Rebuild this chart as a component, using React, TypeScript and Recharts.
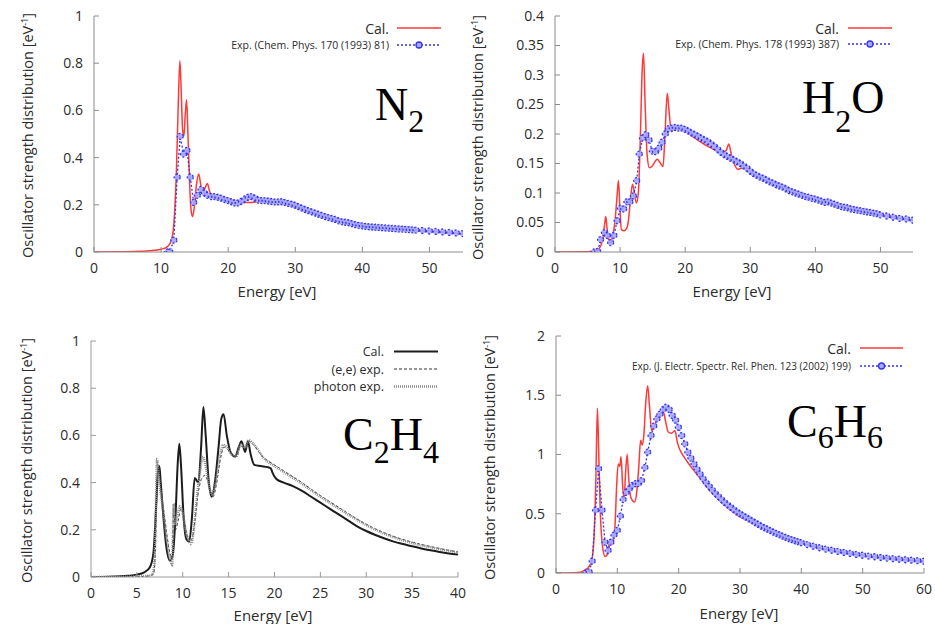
import React from 'react';
import { LineChart, Line, XAxis, YAxis, Legend } from 'recharts';

type Pair = [number, number];

// N2: calculation and experiment (Chem. Phys. 170 (1993) 81)
const n2Cal: Pair[] = [
  [0, 0], [4, 0.001], [7, 0.003], [9, 0.007], [10, 0.012], [10.8, 0.02], [11.3, 0.035], [11.7, 0.07],
  [12.0, 0.16], [12.3, 0.36], [12.55, 0.62], [12.8, 0.81], [13.0, 0.68], [13.2, 0.52], [13.4, 0.49],
  [13.6, 0.58], [13.8, 0.645], [14.0, 0.5], [14.25, 0.29], [14.5, 0.17], [14.7, 0.15], [14.95, 0.19],
  [15.25, 0.28], [15.6, 0.33], [15.95, 0.28], [16.3, 0.255], [16.6, 0.275], [16.9, 0.29], [17.25, 0.255],
  [17.7, 0.24], [18.5, 0.232], [19.5, 0.224], [20.5, 0.216], [21.5, 0.212], [22.5, 0.21], [23.5, 0.21],
  [24.5, 0.213], [25.5, 0.214], [26.5, 0.212], [27.5, 0.21], [28.5, 0.205], [29.5, 0.196], [30.5, 0.186],
  [31.5, 0.176], [32.5, 0.166], [33.5, 0.157], [34.5, 0.148], [35.5, 0.14], [36.5, 0.132], [37.5, 0.125],
  [38.5, 0.119], [39.5, 0.114], [41, 0.108], [43, 0.102], [45, 0.098], [47, 0.094], [49, 0.09],
  [51, 0.086], [53, 0.082], [55, 0.077],
];
const n2Exp: Pair[] = [
  [11.0, 0], [11.3, 0], [11.9, 0.05], [12.4, 0.317], [12.85, 0.49], [13.35, 0.415], [13.85, 0.43],
  [14.35, 0.317], [14.85, 0.21], [15.4, 0.24], [15.95, 0.265], [16.45, 0.25], [16.95, 0.24], [17.5, 0.235],
  [18, 0.235], [18.5, 0.232], [19, 0.228], [19.5, 0.222], [20, 0.218], [20.5, 0.213], [21, 0.208],
  [21.5, 0.208], [22, 0.215], [22.5, 0.225], [23, 0.232], [23.5, 0.235], [24, 0.228], [24.5, 0.22],
  [25, 0.218], [25.5, 0.218], [26, 0.216], [26.5, 0.214], [27, 0.212], [27.5, 0.212], [28, 0.213],
  [28.5, 0.21], [29, 0.206], [29.5, 0.203], [30, 0.198], [30.5, 0.192], [31, 0.186], [31.5, 0.18],
  [32, 0.175], [32.5, 0.17], [33, 0.165], [33.5, 0.16], [34, 0.155], [34.5, 0.15], [35, 0.146],
  [35.5, 0.142], [36, 0.138], [36.5, 0.132], [37, 0.128], [37.5, 0.126], [38, 0.124], [38.5, 0.12],
  [39, 0.116], [39.5, 0.113], [40, 0.111], [40.5, 0.109], [41, 0.107], [41.5, 0.106], [42, 0.105],
  [42.5, 0.104], [43, 0.103], [43.5, 0.102], [44, 0.101], [44.5, 0.1], [45, 0.099], [45.5, 0.098],
  [46, 0.097], [46.5, 0.096], [47, 0.095], [47.5, 0.094], [48, 0.093], [49, 0.091], [50, 0.089],
  [51, 0.087], [52, 0.085], [53, 0.083], [54, 0.081], [55, 0.078],
];

// H2O: calculation and experiment (Chem. Phys. 178 (1993) 387)
const h2oCal: Pair[] = [
  [0, 0], [5, 0.0005], [6.2, 0.002], [6.8, 0.006], [7.3, 0.02], [7.6, 0.045], [7.8, 0.06], [8.0, 0.04],
  [8.3, 0.02], [8.5, 0.015], [8.8, 0.025], [9.2, 0.05], [9.5, 0.09], [9.75, 0.121], [9.95, 0.08],
  [10.2, 0.038], [10.6, 0.036], [11.0, 0.04], [11.3, 0.055], [11.6, 0.09], [11.9, 0.115], [12.2, 0.1],
  [12.5, 0.083], [12.8, 0.1], [13.1, 0.19], [13.4, 0.31], [13.6, 0.337], [13.85, 0.25], [14.15, 0.165],
  [14.5, 0.143], [14.9, 0.145], [15.3, 0.152], [15.7, 0.157], [16.1, 0.152], [16.6, 0.145], [16.9, 0.2],
  [17.25, 0.269], [17.55, 0.235], [17.9, 0.204], [18.4, 0.21], [19.2, 0.208], [20, 0.205], [21, 0.197],
  [22, 0.189], [23, 0.182], [24, 0.176], [25, 0.171], [25.8, 0.17], [26.3, 0.172], [26.7, 0.183],
  [27.1, 0.165], [27.6, 0.148], [28.1, 0.14], [28.6, 0.142], [29.2, 0.143], [30, 0.136], [31, 0.13],
  [32, 0.125], [33, 0.12], [34, 0.116], [35, 0.111], [36, 0.106], [37, 0.102], [38, 0.098], [39, 0.094],
  [40, 0.091], [42, 0.085], [44, 0.079], [46, 0.074], [48, 0.069], [50, 0.064], [52, 0.06], [55, 0.054],
];
const h2oExp: Pair[] = [
  [6.05, 0], [6.55, 0.001], [7.0, 0.021], [7.6, 0.033], [8.05, 0.028], [8.55, 0.016], [9.05, 0.028],
  [9.55, 0.053], [10.05, 0.074], [10.55, 0.073], [11.05, 0.085], [11.5, 0.085], [12.05, 0.095],
  [12.55, 0.121], [12.95, 0.166], [13.45, 0.193], [13.95, 0.199], [14.45, 0.19], [14.95, 0.171],
  [15.45, 0.17], [15.95, 0.176], [16.45, 0.186], [16.95, 0.2], [17.45, 0.209], [18, 0.21], [18.5, 0.211],
  [19, 0.21], [19.5, 0.21], [20, 0.208], [20.5, 0.205], [21, 0.202], [21.5, 0.199], [22, 0.196],
  [22.5, 0.193], [23, 0.19], [23.5, 0.187], [24, 0.183], [24.5, 0.179], [25, 0.174], [25.5, 0.169],
  [26, 0.165], [26.5, 0.162], [27, 0.159], [27.5, 0.156], [28, 0.153], [28.5, 0.15], [29, 0.146],
  [29.5, 0.142], [30, 0.137], [30.5, 0.133], [31, 0.13], [31.5, 0.127], [32, 0.125], [32.5, 0.122],
  [33, 0.119], [33.5, 0.117], [34, 0.114], [34.5, 0.112], [35, 0.11], [35.5, 0.107], [36, 0.104],
  [36.5, 0.102], [37, 0.1], [37.5, 0.098], [38, 0.096], [38.5, 0.094], [39, 0.093], [39.5, 0.091],
  [40, 0.09], [40.5, 0.088], [41, 0.086], [41.5, 0.084], [42, 0.085], [42.5, 0.083], [43, 0.081],
  [43.5, 0.079], [44, 0.077], [44.5, 0.076], [45, 0.075], [45.5, 0.073], [46, 0.072], [46.5, 0.071],
  [47, 0.07], [47.5, 0.069], [48, 0.068], [48.5, 0.067], [49, 0.066], [49.5, 0.065], [50, 0.063],
  [51, 0.061], [52, 0.059], [53, 0.057], [54, 0.056], [55, 0.054],
];

// C2H4: calculation, (e,e) and photon experiments
const c2h4Cal: Pair[] = [
  [0, 0], [2, 0.001], [4, 0.005], [5, 0.01], [5.8, 0.02], [6.4, 0.04], [6.8, 0.1], [7.1, 0.3], [7.3, 0.45],
  [7.45, 0.47], [7.6, 0.4], [7.9, 0.25], [8.2, 0.13], [8.6, 0.07], [8.9, 0.09], [9.2, 0.25], [9.45, 0.48],
  [9.63, 0.565], [9.8, 0.48], [10.1, 0.25], [10.4, 0.16], [10.7, 0.15], [11.0, 0.25], [11.3, 0.42],
  [11.7, 0.4], [12.0, 0.55], [12.25, 0.72], [12.5, 0.6], [12.8, 0.42], [13.15, 0.34], [13.5, 0.4],
  [13.9, 0.55], [14.2, 0.67], [14.45, 0.69], [14.8, 0.6], [15.2, 0.53], [15.7, 0.51], [16.1, 0.55],
  [16.4, 0.575], [16.8, 0.53], [17.1, 0.575], [17.4, 0.52], [17.8, 0.475], [18.5, 0.47], [19.3, 0.465],
  [19.6, 0.46], [19.8, 0.44], [20.2, 0.415], [21, 0.4], [22, 0.385], [23, 0.365], [24, 0.34], [25, 0.315],
  [26, 0.29], [27, 0.265], [28, 0.24], [29, 0.215], [30, 0.195], [31, 0.178], [32, 0.163], [33, 0.15],
  [34, 0.14], [35, 0.13], [36, 0.121], [37, 0.113], [38, 0.106], [39, 0.1], [40, 0.095],
];
const c2h4EE: Pair[] = [
  [0, 0], [4, 0.001], [6, 0.003], [6.8, 0.01], [7.0, 0.1], [7.2, 0.38], [7.35, 0.47], [7.5, 0.43],
  [7.7, 0.35], [8.0, 0.26], [8.3, 0.17], [8.6, 0.1], [8.85, 0.08], [9.0, 0.28], [9.2, 0.2], [9.5, 0.24],
  [9.8, 0.29], [10.1, 0.26], [10.4, 0.19], [10.7, 0.15], [11.0, 0.16], [11.3, 0.23], [11.7, 0.36],
  [12.1, 0.42], [12.4, 0.43], [12.7, 0.41], [13.0, 0.37], [13.3, 0.34], [13.7, 0.4], [14.1, 0.5],
  [14.5, 0.55], [14.9, 0.54], [15.4, 0.52], [15.9, 0.51], [16.3, 0.555], [16.8, 0.55], [17.2, 0.575],
  [17.7, 0.56], [18.2, 0.535], [18.7, 0.51], [19.2, 0.495], [20, 0.475], [21, 0.45], [22, 0.425],
  [23, 0.4], [24, 0.372], [25, 0.345], [26, 0.32], [27, 0.295], [28, 0.27], [29, 0.246], [30, 0.224],
  [31, 0.204], [32, 0.187], [33, 0.172], [34, 0.159], [35, 0.148], [36, 0.138], [37, 0.129], [38, 0.121],
  [39, 0.113], [40, 0.106],
];
const c2h4Photon: Pair[] = [
  [0, 0], [3, 0.001], [5, 0.002], [6, 0.004], [6.6, 0.01], [6.9, 0.05], [7.05, 0.25], [7.2, 0.5],
  [7.35, 0.44], [7.5, 0.38], [7.7, 0.33], [8.0, 0.24], [8.3, 0.15], [8.6, 0.08], [8.85, 0.05], [9.0, 0.31],
  [9.15, 0.22], [9.4, 0.26], [9.7, 0.3], [10.0, 0.27], [10.3, 0.2], [10.6, 0.16], [10.9, 0.14], [11.2, 0.2],
  [11.5, 0.32], [11.9, 0.45], [12.2, 0.51], [12.5, 0.47], [12.8, 0.4], [13.2, 0.35], [13.6, 0.4],
  [14.0, 0.5], [14.4, 0.56], [14.8, 0.55], [15.3, 0.52], [15.8, 0.51], [16.3, 0.56], [16.8, 0.55],
  [17.2, 0.58], [17.7, 0.565], [18.2, 0.54], [18.7, 0.51], [19.2, 0.49], [20, 0.47], [21, 0.445],
  [22, 0.42], [23, 0.395], [24, 0.367], [25, 0.34], [26, 0.315], [27, 0.29], [28, 0.265], [29, 0.242],
  [30, 0.22], [31, 0.2], [32, 0.183], [33, 0.168], [34, 0.155], [35, 0.144], [36, 0.134], [37, 0.126],
  [38, 0.118], [39, 0.111], [40, 0.104],
];

// C6H6: calculation and experiment (J. Electr. Spectr. Rel. Phen. 123 (2002) 199)
const c6h6Cal: Pair[] = [
  [0, 0], [3, 0.002], [4, 0.006], [4.7, 0.025], [5.3, 0.05], [5.8, 0.1], [6.2, 0.3], [6.5, 0.8],
  [6.75, 1.39], [6.95, 1.05], [7.2, 0.55], [7.6, 0.22], [8.0, 0.14], [8.4, 0.16], [8.8, 0.28], [9.2, 0.24],
  [9.6, 0.38], [9.9, 0.75], [10.15, 0.92], [10.4, 0.9], [10.6, 0.98], [10.85, 0.75], [11.1, 0.62],
  [11.35, 0.85], [11.6, 1.0], [11.85, 0.8], [12.2, 0.64], [12.8, 0.6], [13.2, 0.7], [13.5, 0.9],
  [13.8, 1.12], [14.05, 1.08], [14.3, 1.15], [14.65, 1.45], [14.95, 1.58], [15.25, 1.4], [15.6, 1.2],
  [16.0, 1.24], [16.5, 1.3], [17.0, 1.34], [17.5, 1.36], [17.9, 1.27], [18.3, 1.19], [18.8, 1.18],
  [19.4, 1.2], [19.8, 1.1], [20.2, 1.04], [21, 0.97], [22.4, 0.87], [23, 0.83], [24, 0.77], [25, 0.7],
  [26, 0.65], [27, 0.6], [28, 0.55], [29, 0.51], [30, 0.475], [31, 0.45], [32, 0.425], [33, 0.4],
  [34, 0.375], [35, 0.352], [36, 0.33], [37, 0.308], [38, 0.288], [39, 0.27], [40, 0.254], [42, 0.224],
  [44, 0.2], [46, 0.18], [48, 0.164], [50, 0.15], [52, 0.137], [54, 0.126], [56, 0.116], [58, 0.108],
  [60, 0.1],
];
const c6h6Exp: Pair[] = [
  [4.9, 0], [5.4, 0.01], [5.9, 0.1], [6.45, 0.53], [6.95, 0.88], [7.5, 0.53], [8.0, 0.26], [8.5, 0.19],
  [8.95, 0.26], [9.45, 0.32], [10.0, 0.36], [10.5, 0.48], [10.95, 0.62], [11.45, 0.68], [11.95, 0.71],
  [12.5, 0.74], [13.0, 0.755], [13.45, 0.755], [13.95, 0.78], [14.5, 0.89], [14.95, 1.02], [15.5, 1.16],
  [15.95, 1.24], [16.45, 1.3], [16.95, 1.34], [17.5, 1.38], [17.95, 1.4], [18.45, 1.38], [18.95, 1.33],
  [19.5, 1.29], [19.95, 1.23], [20.5, 1.16], [21, 1.09], [21.5, 1.02], [22, 0.97], [22.5, 0.92],
  [23, 0.875], [23.5, 0.835], [24, 0.795], [24.5, 0.76], [25, 0.73], [25.5, 0.7], [26, 0.67],
  [26.5, 0.645], [27, 0.62], [27.5, 0.595], [28, 0.575], [28.5, 0.555], [29, 0.535], [29.5, 0.515],
  [30, 0.5], [30.5, 0.485], [31, 0.47], [31.5, 0.455], [32, 0.44], [32.5, 0.425], [33, 0.41],
  [33.5, 0.395], [34, 0.382], [34.5, 0.37], [35, 0.357], [35.5, 0.345], [36, 0.333], [36.5, 0.322],
  [37, 0.311], [37.5, 0.3], [38, 0.29], [38.5, 0.281], [39, 0.272], [39.5, 0.264], [40, 0.256],
  [41, 0.24], [42, 0.226], [43, 0.213], [44, 0.202], [45, 0.192], [46, 0.182], [47, 0.173], [48, 0.165],
  [49, 0.157], [50, 0.15], [51, 0.143], [52, 0.137], [53, 0.131], [54, 0.126], [55, 0.121], [56, 0.116],
  [57, 0.112], [58, 0.108], [59, 0.104], [60, 0.1],
];

const ticks55 = [0, 10, 20, 30, 40, 50];
const ticks40 = [0, 5, 10, 15, 20, 25, 30, 35, 40];
const ticks60 = [0, 10, 20, 30, 40, 50, 60];
const yTicks1 = [0, 0.2, 0.4, 0.6, 0.8, 1];
const yTicksH2O = [0, 0.05, 0.1, 0.15, 0.2, 0.25, 0.3, 0.35, 0.4];
const yTicks2 = [0, 0.5, 1, 1.5, 2];

const FONT = "'Open Sans', 'DejaVu Sans', sans-serif";
const SERIF = "'Liberation Serif', 'DejaVu Serif', serif";
const RED = '#ff3838';
const BLUE = '#3333ee';
const DOT_FILL = '#a8a8ff';
const TEXT = '#2b2b2b';

interface Series {
  name: string;
  data: Pair[];
  stroke: string;
  width: number;
  dash?: string;
  dots?: boolean;
  size: number;
}

interface PanelCfg {
  x: number;
  y: number;
  w: number;
  h: number;
  plot: { l: number; r: number; t: number; b: number };
  xDomain: [number, number];
  xTicks: number[];
  yDomain: [number, number];
  yTicks: number[];
  axisColor: string;
  series: Series[];
  legend: { textRight: number; x1: number; x2: number; rows: number[] };
}

const toPoints = (rows: Pair[]) => rows.map(([e, f]) => ({ e, f }));

const calSeries = (data: Pair[]): Series => ({ name: 'Cal.', data, stroke: RED, width: 1.5, size: 14 });
const expSeries = (name: string, data: Pair[], size: number): Series => ({
  name, data, stroke: BLUE, width: 1.3, dash: '2 2', dots: true, size,
});

const panels: PanelCfg[] = [
  {
    x: 0, y: 0, w: 470, h: 310,
    plot: { l: 94, r: 463, t: 16, b: 252 },
    xDomain: [0, 55], xTicks: ticks55, yDomain: [0, 1], yTicks: yTicks1, axisColor: '#8c8c8c',
    series: [calSeries(n2Cal), expSeries('Exp. (Chem. Phys. 170 (1993) 81)', n2Exp, 10.5)],
    legend: { textRight: 389, x1: 397, x2: 441, rows: [28, 45] },
  },
  {
    x: 465, y: 0, w: 470, h: 310,
    plot: { l: 555, r: 913, t: 16, b: 252 },
    xDomain: [0, 55], xTicks: ticks55, yDomain: [0, 0.4], yTicks: yTicksH2O, axisColor: '#8c8c8c',
    series: [calSeries(h2oCal), expSeries('Exp. (Chem. Phys. 178 (1993) 387)', h2oExp, 10.5)],
    legend: { textRight: 374, x1: 383, x2: 427, rows: [28, 44] },
  },
  {
    x: 0, y: 320, w: 470, h: 304,
    plot: { l: 91, r: 458, t: 341, b: 577 },
    xDomain: [0, 40], xTicks: ticks40, yDomain: [0, 1], yTicks: yTicks1, axisColor: '#9a9a9a',
    series: [
      { name: 'Cal.', data: c2h4Cal, stroke: '#1c1c1c', width: 2, size: 12.5 },
      { name: '(e,e) exp.', data: c2h4EE, stroke: '#333', width: 1, dash: '3 2', size: 12.5 },
      { name: 'photon exp.', data: c2h4Photon, stroke: '#8a8a8a', width: 2.5, dash: '1 1', size: 12.5 },
    ],
    legend: { textRight: 384, x1: 394, x2: 438, rows: [31.5, 49, 66.5] },
  },
  {
    x: 465, y: 320, w: 470, h: 304,
    plot: { l: 556, r: 924, t: 336, b: 573 },
    xDomain: [0, 60], xTicks: ticks60, yDomain: [0, 2], yTicks: yTicks2, axisColor: '#8c8c8c',
    series: [calSeries(c6h6Cal), expSeries('Exp. (J. Electr. Spectr. Rel. Phen. 123 (2002) 199)', c6h6Exp, 10)],
    legend: { textRight: 386, x1: 395, x2: 438, rows: [28, 46] },
  },
];

const tickStyle = { fill: TEXT, fontSize: 14, fontFamily: FONT };

function PanelLegend({ cfg }: { cfg: PanelCfg }) {
  const { legend } = cfg;
  return (
    <svg width={cfg.w} height={80} style={{ display: 'block' }}>
      {cfg.series.map((s, i) => {
        const y = legend.rows[i];
        return (
          <g key={s.name}>
            <text x={legend.textRight} y={y} textAnchor="end" dominantBaseline="central"
              fontSize={s.size} fontFamily={FONT} fill={TEXT}>{s.name}</text>
            <line x1={legend.x1} x2={legend.x2} y1={y} y2={y} stroke={s.stroke}
              strokeWidth={s.width} strokeDasharray={s.dash} />
            {s.dots && (
              <circle cx={(legend.x1 + legend.x2) / 2} cy={y} r={3} stroke={s.stroke}
                strokeWidth={1.3} fill={DOT_FILL} />
            )}
          </g>
        );
      })}
    </svg>
  );
}

function Panel({ cfg }: { cfg: PanelCfg }) {
  const { x, y, w, h, plot, axisColor } = cfg;
  const axisLine = { stroke: axisColor, strokeWidth: 1 };
  return (
    <div style={{ position: 'absolute', left: x, top: y, width: w, height: h }}>
      <LineChart width={w} height={h} margin={{ top: plot.t - y, right: x + w - plot.r, bottom: 0, left: 0 }}>
        <XAxis xAxisId="b" type="number" dataKey="e" domain={cfg.xDomain} ticks={cfg.xTicks} interval={0}
          allowDataOverflow height={y + h - plot.b} tickSize={-5} tickMargin={16}
          axisLine={axisLine} tickLine={axisLine} tick={tickStyle} />
        <XAxis xAxisId="t" orientation="top" type="number" dataKey="e" domain={cfg.xDomain} ticks={cfg.xTicks}
          interval={0} allowDataOverflow height={0} tickSize={-5} tick={false}
          axisLine={axisLine} tickLine={axisLine} />
        <YAxis yAxisId="l" type="number" domain={cfg.yDomain} ticks={cfg.yTicks} interval={0}
          allowDataOverflow width={plot.l - x} tickSize={-5} tickMargin={16}
          axisLine={axisLine} tickLine={axisLine} tick={tickStyle} />
        <YAxis yAxisId="r" orientation="right" type="number" domain={cfg.yDomain} ticks={cfg.yTicks}
          interval={0} allowDataOverflow width={0} tickSize={-5} tick={false}
          axisLine={axisLine} tickLine={axisLine} />
        {cfg.series.map((s) => (
          <Line key={s.name} xAxisId="b" yAxisId="l" data={toPoints(s.data)} dataKey="f" name={s.name}
            type={s.dots ? 'linear' : 'monotone'} stroke={s.stroke} strokeWidth={s.width}
            strokeDasharray={s.dash}
            dot={s.dots ? { r: 3, stroke: s.stroke, strokeWidth: 1.3, fill: DOT_FILL, fillOpacity: 0.9 } : false}
            activeDot={false} isAnimationActive={false} />
        ))}
        <Legend layout="horizontal" align="center" verticalAlign="middle"
          wrapperStyle={{ position: 'absolute', left: 0, top: 0, width: w, height: 80, margin: 0 }}
          content={() => <PanelLegend cfg={cfg} />} />
      </LineChart>
    </div>
  );
}

const yLabels = [
  { cx: 28, by: 258 },
  { cx: 478, by: 260 },
  { cx: 27, by: 583 },
  { cx: 490, by: 580 },
];
const xLabels = [
  { cx: 277, by: 297 },
  { cx: 732, by: 297 },
  { cx: 273, by: 621 },
  { cx: 739, by: 619 },
];

export default function App() {
  return (
    <div style={{ position: 'absolute', left: 0, top: 0, width: 935, height: 624, background: '#fff', overflow: 'hidden' }}>
      {panels.map((p, i) => <Panel key={i} cfg={p} />)}
      <svg width={935} height={624} style={{ position: 'absolute', left: 0, top: 0, pointerEvents: 'none' }}>
        {yLabels.map((l, i) => (
          <text key={`y${i}`} transform={`translate(${l.cx + 5},${l.by}) rotate(-90)`} fontSize={14.5}
            fontFamily={FONT} fill={TEXT}>
            Oscillator strength distribution [eV<tspan dy={-5} fontSize={9}>-1</tspan><tspan dy={5}>]</tspan>
          </text>
        ))}
        {xLabels.map((l, i) => (
          <text key={`x${i}`} x={l.cx} y={l.by} textAnchor="middle" fontSize={15} fontFamily={FONT} fill={TEXT}>
            Energy [eV]
          </text>
        ))}
        <g fontFamily={SERIF} fill="#000" fontSize={46}>
          <text x={375} y={120}>N<tspan dy={12} fontSize={32}>2</tspan></text>
          <text x={802} y={113}>H<tspan dy={19} fontSize={32}>2</tspan><tspan dy={-19}>O</tspan></text>
          <text x={343} y={450}>C<tspan dy={13} fontSize={32}>2</tspan><tspan dy={-13}>H</tspan><tspan dy={13} fontSize={32}>4</tspan></text>
          <text x={787} y={437}>C<tspan dy={11} fontSize={32}>6</tspan><tspan dy={-11}>H</tspan><tspan dy={11} fontSize={32}>6</tspan></text>
        </g>
      </svg>
    </div>
  );
}
